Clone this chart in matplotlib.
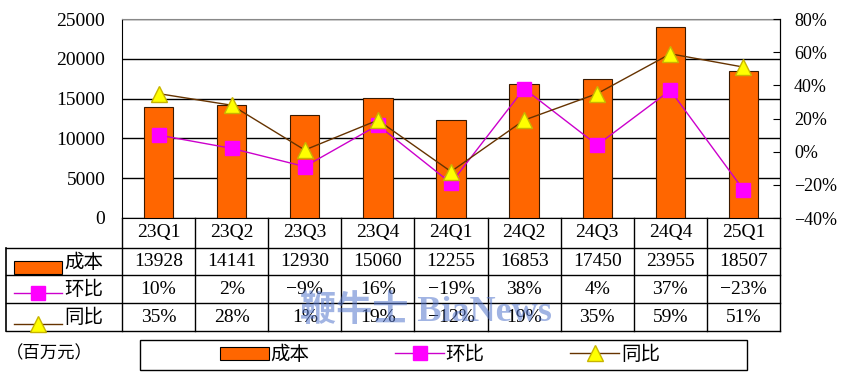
import numpy as np
import matplotlib
matplotlib.use('Agg')
import matplotlib.pyplot as plt
from matplotlib.patches import Rectangle

plt.rcParams['font.family'] = ['Liberation Serif', 'Noto Sans CJK SC', 'DejaVu Sans']

# Data
quarters = ['23Q1', '23Q2', '23Q3', '23Q4', '24Q1', '24Q2', '24Q3', '24Q4', '25Q1']
cost = [13928, 14141, 12930, 15060, 12255, 16853, 17450, 23955, 18507]
qoq = [10, 2, -9, 16, -19, 38, 4, 37, -23]
yoy = [35, 28, 1, 19, -12, 19, 35, 59, 51]

BAR = '#FF6600'
QOQ_LINE, QOQ_MK = '#CC00CC', '#FF00FF'
YOY_LINE, YOY_MK = '#663300', '#FFFF00'

W, H = 854, 392
fig = plt.figure(figsize=(W / 100, H / 100), dpi=100)

def pct(v):
    return f'{v}%'.replace('-', '\u2212')

# main plot area
ax = fig.add_axes([122 / W, 1 - 218 / H, 658 / W, 199 / H])
x = np.arange(len(quarters))
ax.bar(x, cost, width=0.4, color=BAR, edgecolor='#3a1a00', linewidth=0.8, zorder=3)
ax.set_xlim(-0.5, len(quarters) - 0.5)
ax.set_ylim(0, 25000)
ax.set_yticks(range(0, 25001, 5000))
ax.grid(axis='y', color='black', linewidth=1)
ax.set_axisbelow(True)
ax.set_xticks([])
ax.tick_params(axis='y', length=0, pad=12, labelsize=14)
ax.spines['top'].set_color('#888888')
for s in ['left', 'bottom', 'right']:
    ax.spines[s].set_color('black')

ax2 = ax.twinx()
ax2.set_ylim(-40, 80)
ax2.set_yticks(range(-40, 81, 20))
ax2.set_yticklabels([pct(v) for v in range(-40, 81, 20)])
ax2.tick_params(axis='y', direction='in', length=5, pad=10, labelsize=13)
for s in ['top', 'left', 'bottom']:
    ax2.spines[s].set_visible(False)
l_qoq, = ax2.plot(x, qoq, color=QOQ_LINE, lw=1, marker='s', ms=10,
                  mfc=QOQ_MK, mec=QOQ_MK, label='环比')
l_yoy, = ax2.plot(x, yoy, color=YOY_LINE, lw=1, marker='^', ms=11,
                  mfc=YOY_MK, mec='#C8B400', label='同比')

# data table under the plot
colw = 658 / len(quarters)
xl = -0.5 - (122 - 6) / colw
xr = len(quarters) - 0.5
def px2d(px):
    return -0.5 + (px - 122) / colw

tab = fig.add_axes([6 / W, 1 - 331 / H, (780 - 6) / W, (331 - 218) / H])
tab.set_xlim(xl, xr)
tab.set_ylim(113, 0)
tab.axis('off')
edges = [0, 30, 57, 85, 113]
for k in range(len(quarters) + 1):
    tab.plot([k - 0.5, k - 0.5], [0, 113], color='black', lw=1, clip_on=False)
tab.plot([xl, xl], [30, 113], color='black', lw=1.2, clip_on=False)
for yy in edges[1:]:
    tab.plot([xl, xr], [yy, yy], color='black', lw=1, clip_on=False)

rows = [[str(v) for v in cost], [pct(v) for v in qoq], [pct(v) for v in yoy]]
for i, q in enumerate(quarters):
    tab.text(i, 15, q, ha='center', va='center', fontsize=14)
    for r in range(3):
        yc = (edges[r + 1] + edges[r + 2]) / 2
        tab.text(i, yc, rows[r][i], ha='center', va='center', fontsize=14)

# row header symbols
hx0, hx1 = px2d(14), px2d(62)
yc = [(edges[r + 1] + edges[r + 2]) / 2 for r in range(3)]
tab.add_patch(Rectangle((hx0, yc[0] - 1), hx1 - hx0, 13, facecolor=BAR,
                        edgecolor='black', lw=0.8, clip_on=False))
tab.plot([hx0, hx1], [yc[1] + 4, yc[1] + 4], color=QOQ_LINE, lw=1, clip_on=False)
tab.plot([(hx0 + hx1) / 2], [yc[1] + 4], marker='s', ms=10, color=QOQ_MK, clip_on=False)
tab.plot([hx0, hx1], [yc[2] + 7, yc[2] + 7], color=YOY_LINE, lw=1, clip_on=False)
tab.plot([(hx0 + hx1) / 2], [yc[2] + 7], marker='^', ms=11, mfc=YOY_MK,
         mec='#C8B400', clip_on=False)
for r, name in enumerate(['成本', '环比', '同比']):
    tab.text(px2d(64), yc[r] + 1, name, ha='left', va='center', fontsize=14)

# unit label
fig.text(6 / W, 1 - 354 / H, '（百万元）', ha='left', va='center', fontsize=12.5)

# legend box
fig.patches.append(Rectangle((140 / W, 1 - 370 / H), 607 / W, 30 / H,
                             transform=fig.transFigure, facecolor='none',
                             edgecolor='black', lw=1))
bar_h = Rectangle((0, 0), 1, 1, facecolor=BAR, edgecolor='black', lw=0.8)
fig.legend([bar_h, l_qoq, l_yoy], ['成本', '环比', '同比'], ncol=3, loc='center',
           bbox_to_anchor=(440 / W, 1 - 355 / H), frameon=False, fontsize=14,
           handlelength=2.5, handleheight=0.7, handletextpad=0.1,
           columnspacing=4.4)

# watermark
fig.text(300 / W, 1 - 312 / H, '鞭牛士 BiaNews', ha='left', va='center',
         fontsize=26, color='#5577cc', alpha=0.55, fontweight='bold')

fig.savefig('out.png', dpi=100)
